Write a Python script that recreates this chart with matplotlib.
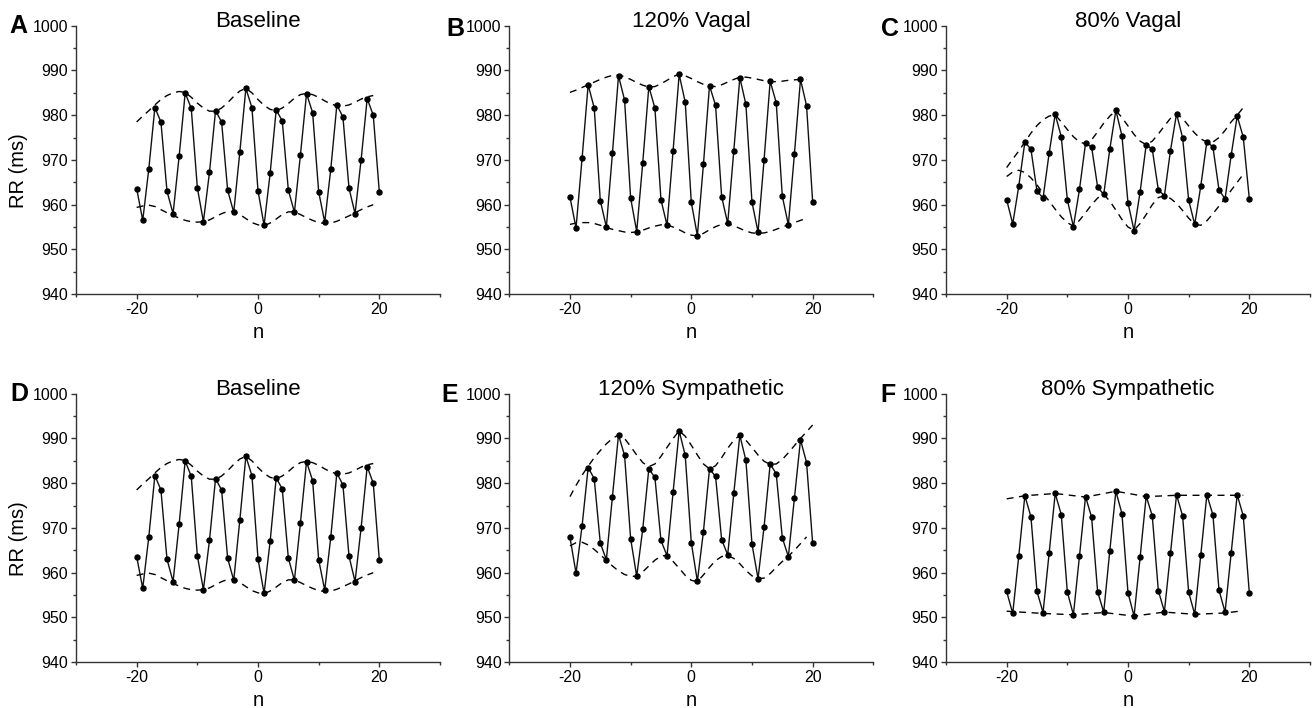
import matplotlib
matplotlib.use("Agg")
import matplotlib.pyplot as plt
from matplotlib.ticker import MultipleLocator, FixedLocator
import numpy as np

plt.rcParams['font.family'] = ['Liberation Sans', 'DejaVu Sans']
plt.rcParams['axes.unicode_minus'] = False

n = list(range(-20, 21))
n_env = list(range(-20, 20))

baseline = [963.6, 956.5, 968.0, 981.7, 978.5, 963.0, 958.0, 970.8, 985.0, 981.5,
            963.8, 956.2, 967.2, 981.0, 978.5, 963.2, 958.3, 971.7, 986.0, 981.7,
            963.1, 955.4, 967.0, 981.2, 978.7, 963.3, 958.3, 971.2, 984.8, 980.6,
            962.9, 956.1, 968.0, 982.3, 979.6, 963.7, 958.0, 970.1, 983.7, 980.0,
            962.8]
baseline_up = [978.5, 979.8, 981.0, 982.3, 983.5, 984.4, 985.0, 985.3, 985.1, 984.0,
               982.7, 981.6, 980.9, 980.9, 981.6, 982.8, 984.2, 985.4, 986.0, 985.0,
               983.5, 982.2, 981.3, 981.0, 981.6, 982.6, 983.8, 984.6, 984.9, 984.6,
               984.0, 983.2, 982.5, 982.1, 982.0, 982.3, 982.9, 983.6, 984.1, 984.4]
baseline_lo = [959.4, 959.7, 959.9, 959.6, 958.9, 958.2, 957.6, 957.0, 956.5, 956.2,
               956.1, 956.2, 956.6, 957.3, 958.0, 958.5, 958.5, 957.8, 956.9, 956.0,
               955.5, 955.3, 955.9, 956.8, 957.8, 958.4, 958.4, 957.8, 957.1, 956.5,
               956.0, 955.8, 955.9, 956.3, 956.9, 957.5, 958.2, 958.9, 959.5, 960.0]

vagal120 = [961.7, 954.8, 970.4, 986.8, 981.6, 960.9, 955.0, 971.5, 988.8, 983.4,
            961.5, 954.0, 969.4, 986.4, 981.6, 961.1, 955.4, 972.1, 989.1, 982.9,
            960.5, 953.1, 969.0, 986.6, 982.2, 961.8, 955.8, 972.0, 988.4, 982.4,
            960.6, 953.9, 970.1, 987.6, 982.8, 961.9, 955.5, 971.4, 988.0, 982.1,
            960.7]
vagal120_up = [985.1, 985.6, 986.2, 986.8, 987.4, 988.0, 988.5, 988.9, 989.0, 988.6,
               988.0, 987.3, 986.7, 986.3, 986.4, 987.0, 987.8, 988.6, 989.2, 988.8,
               988.2, 987.5, 986.9, 986.5, 986.4, 986.8, 987.4, 988.0, 988.5, 988.5,
               988.3, 988.0, 987.7, 987.5, 987.5, 987.6, 987.8, 987.9, 988.0, 988.0]
vagal120_lo = [955.6, 955.9, 956.0, 956.0, 955.8, 955.4, 954.9, 954.5, 954.2, 953.9,
               953.8, 953.9, 954.3, 954.8, 955.2, 955.5, 955.5, 955.0, 954.4, 953.7,
               953.2, 953.0, 953.6, 954.4, 955.1, 955.6, 955.8, 955.3, 954.7, 954.1,
               953.7, 953.6, 953.7, 954.0, 954.5, 955.0, 955.5, 956.0, 956.5, 957.0]

vagal80 = [961.1, 955.7, 964.2, 974.0, 972.4, 963.0, 961.5, 971.5, 980.2, 975.2,
           961.1, 955.1, 963.4, 973.7, 972.9, 963.9, 962.3, 972.4, 981.1, 975.4,
           960.4, 954.2, 962.9, 973.4, 972.4, 963.3, 962.0, 972.1, 980.3, 975.0,
           961.0, 955.6, 964.2, 974.1, 972.9, 963.3, 961.3, 971.0, 979.8, 975.1,
           961.3]
vagal80_up = [968.3, 970.2, 972.0, 974.0, 976.0, 977.7, 979.0, 979.8, 980.1, 978.5,
              976.8, 975.2, 974.0, 973.6, 974.5, 976.3, 978.2, 979.8, 981.0, 979.5,
              977.6, 975.7, 974.2, 973.4, 974.2, 975.8, 977.6, 979.3, 980.3, 979.3,
              977.6, 976.0, 974.7, 974.0, 974.0, 975.0, 976.6, 978.5, 980.0, 981.7]
vagal80_lo = [966.3, 967.3, 967.7, 967.2, 966.0, 964.4, 962.6, 960.8, 959.0, 957.3,
              956.0, 955.2, 956.5, 958.2, 960.0, 961.5, 962.3, 960.8, 958.8, 956.7,
              955.0, 954.3, 955.8, 957.8, 960.0, 961.6, 962.0, 961.4, 960.3, 958.7,
              957.0, 955.6, 955.4, 956.4, 958.0, 959.7, 961.4, 963.2, 965.0, 966.8]

symp120 = [967.9, 959.9, 970.5, 983.5, 981.0, 966.6, 962.9, 977.0, 990.8, 986.2,
           967.6, 959.2, 969.8, 983.2, 981.3, 967.2, 963.8, 978.0, 991.7, 986.2,
           966.7, 958.1, 969.2, 983.2, 981.5, 967.4, 964.0, 977.7, 990.7, 985.1,
           966.4, 958.7, 970.3, 984.3, 982.1, 967.8, 963.6, 976.7, 989.7, 984.6,
           966.6]
symp120_up = [977.0, 979.5, 981.8, 983.8, 985.7, 987.3, 988.8, 990.0, 990.8, 990.0,
              988.2, 986.3, 984.6, 983.7, 984.3, 986.0, 988.0, 990.0, 991.7, 990.5,
              988.5, 986.3, 984.3, 983.2, 983.9, 985.7, 987.8, 989.6, 990.7, 989.6,
              988.0, 986.3, 984.9, 984.2, 984.3, 985.3, 986.8, 988.4, 990.0, 991.5,
              993.0]
symp120_lo = [966.0, 966.7, 966.8, 966.2, 965.2, 964.0, 962.8, 961.5, 960.4, 959.6,
              959.2, 959.2, 960.2, 961.5, 962.8, 963.7, 963.9, 962.5, 961.0, 959.4,
              958.3, 958.0, 959.5, 961.2, 962.7, 963.6, 963.8, 963.2, 962.0, 960.5,
              959.3, 958.7, 958.8, 959.8, 961.2, 962.5, 963.7, 965.0, 966.5, 968.0]

symp80 = [955.8, 950.9, 963.8, 977.2, 972.5, 955.8, 951.1, 964.4, 977.7, 973.0,
          955.7, 950.6, 963.7, 977.0, 972.4, 955.7, 951.2, 964.9, 978.2, 973.2,
          955.5, 950.3, 963.5, 977.1, 972.7, 956.0, 951.3, 964.3, 977.4, 972.7,
          955.6, 950.7, 964.0, 977.4, 972.9, 956.1, 951.2, 964.3, 977.4, 972.7,
          955.5]
symp80_up_n = [-20, -17, -12, -7, -2, 3, 8, 13, 19]
symp80_up = [976.5, 977.2, 977.7, 976.9, 978.2, 977.0, 977.3, 977.3, 977.3]
symp80_lo_n = [-20, -19, -14, -9, -4, 1, 6, 11, 16, 19]
symp80_lo = [951.4, 951.3, 950.9, 950.6, 951.1, 950.3, 951.2, 950.7, 951.0, 951.5]

titles = ["Baseline", "120% Vagal", "80% Vagal",
          "Baseline", "120% Sympathetic", "80% Sympathetic"]
letters = ["A", "B", "C", "D", "E", "F"]

panels = [
    (baseline, n_env, baseline_up, n_env, baseline_lo),
    (vagal120, n_env, vagal120_up, n_env, vagal120_lo),
    (vagal80, n_env, vagal80_up, n_env, vagal80_lo),
    (baseline, n_env, baseline_up, n_env, baseline_lo),
    (symp120, n, symp120_up, n_env, symp120_lo),
    (symp80, symp80_up_n, symp80_up, symp80_lo_n, symp80_lo),
]

W, H = 1314, 708
fig = plt.figure(figsize=(W / 100, H / 100), dpi=100)

lefts = [76, 509.3, 946]
tops = [25.7, 393.7]
aw, ah = 364, 268.5
letter_pos = [(18.5, 26), (455, 28.5), (890, 28.5), (19.5, 394), (450, 395), (888.5, 395)]

axcol = '#333333'
for i, (y, nu, yu, nl, yl) in enumerate(panels):
    r, c = divmod(i, 3)
    left = lefts[c]
    top = tops[r]
    ax = fig.add_axes([left / W, 1 - (top + ah) / H, aw / W, ah / H])
    ax.plot(n, y, color='#111111', lw=1.0, marker='o', ms=3.6, mfc='black', mec='black', zorder=3)
    ax.plot(nu, yu, color='black', lw=1.0, ls=(0, (5, 4)), zorder=2)
    ax.plot(nl, yl, color='black', lw=1.0, ls=(0, (5, 4)), zorder=2)
    ax.set_xlim(-30, 30)
    ax.set_ylim(940, 1000)
    for s in ['top', 'right']:
        ax.spines[s].set_visible(False)
    for s in ['left', 'bottom']:
        ax.spines[s].set_color(axcol)
        ax.spines[s].set_linewidth(1.0)
    ax.xaxis.set_major_locator(FixedLocator([-20, 0, 20]))
    ax.xaxis.set_minor_locator(FixedLocator([-30, -10, 10, 30]))
    ax.yaxis.set_major_locator(MultipleLocator(10))
    ax.yaxis.set_minor_locator(MultipleLocator(5))
    ax.tick_params(which='major', direction='out', length=3.5, width=1, color=axcol,
                   labelsize=11.5, pad=2)
    ax.tick_params(which='minor', direction='out', length=2.5, width=1, color=axcol)
    ax.text(0.5, 1.0 + (4.2 / ah), titles[i], transform=ax.transAxes,
            ha='center', va='center', fontsize=16)
    ax.text(0.5, -38 / ah, 'n', transform=ax.transAxes, ha='center', va='center', fontsize=14.5)
    if c == 0:
        ax.text(-58 / aw, 124 / ah, 'RR (ms)', transform=ax.transAxes, rotation=90,
                ha='center', va='center', fontsize=14.5)
    lx, ly = letter_pos[i]
    fig.text(lx / W, 1 - ly / H, letters[i], ha='center', va='center',
             fontsize=18, fontweight='bold')

fig.savefig('out.png', dpi=100)
